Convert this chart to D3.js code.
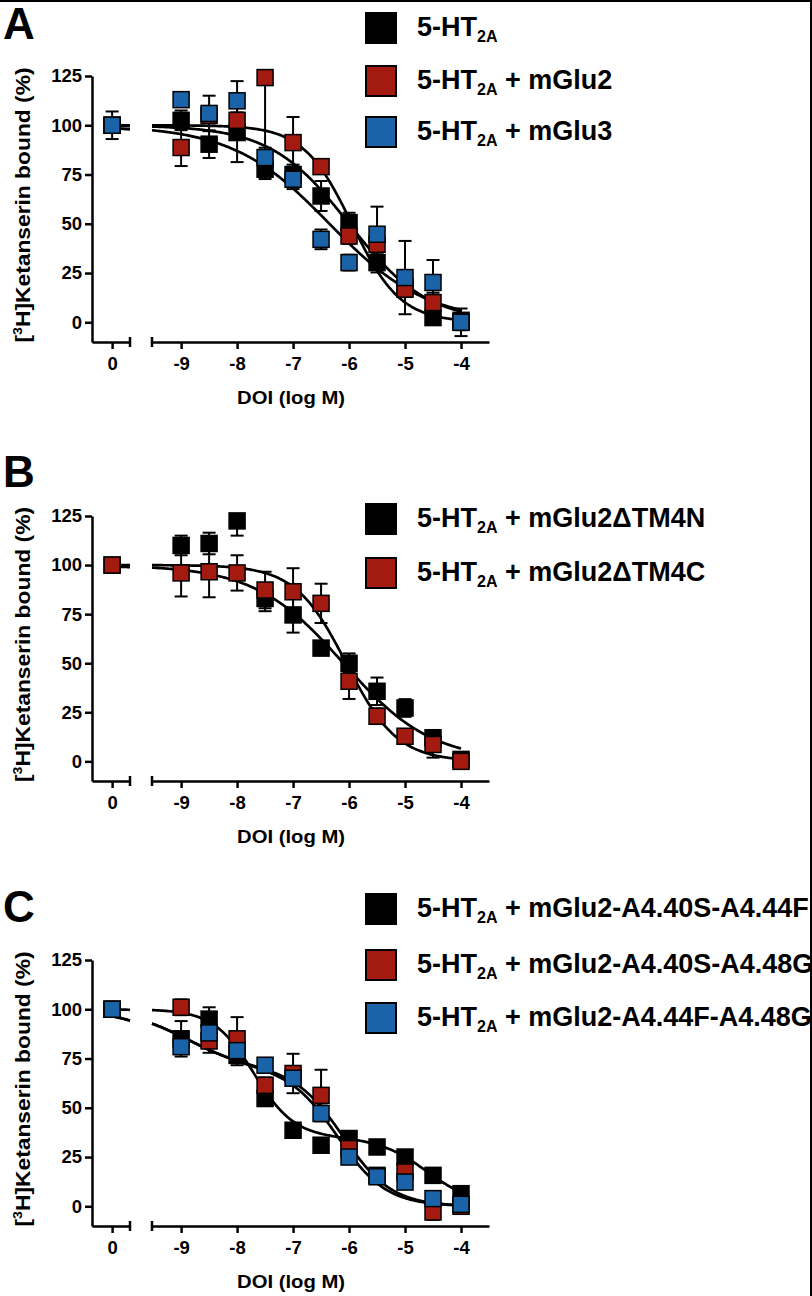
<!DOCTYPE html>
<html>
<head>
<meta charset="utf-8">
<script src="https://cdn.jsdelivr.net/npm/d3@7"></script>
<style>
  body { margin: 0; background: #fff; }
  svg text { font-family: "Liberation Sans", Arial, sans-serif; font-weight: bold; fill: #000; }
</style>
</head>
<body>
<svg id="chart" width="812" height="1296"></svg>
<script>
// doses: the first one is the vehicle (drawn at "0"), the rest are log M
var doses = [-10, -9, -8.5, -8, -7.5, -7, -6.5, -6, -5.5, -5, -4.5, -4];
var xTicks = [-9, -8, -7, -6, -5, -4];
var yTicks = [0, 25, 50, 75, 100, 125];

// panel A
var aLabels = ["", " + mGlu2", " + mGlu3"];
var aBlack    = [100, 102.5, 90.4, 96.3, 77.7, 75, 64.1, 50.6, 30.3, 18, 2.4, 1];
var aBlackErr = [3, 5, 7, 15, 5, 5, 7.6, 5, 5, 4, 3, 3];
var aRed      = [100, 88.7, 105, 102.5, 124.2, 91.2, 79, 43.8, 39.6, 16.8, 10, 0];
var aRedErr   = [3, 9.4, 4, 4, 39, 13, 3, 4, 4, 4, 5, 4];
var aBlue     = [100, 113, 106, 112.4, 83.6, 72.6, 42.1, 30.3, 44.7, 22.7, 20.2, 0];
var aBlueErr  = [7, 3, 9, 10, 5, 5, 5, 4, 14, 18.6, 11.4, 7];

// panel B
var bLabels = [" + mGlu2\u0394TM4N", " + mGlu2\u0394TM4C"];
var bBlack    = [100, 110, 111, 122.5, 83, 74.6, 57.7, 50, 35.7, 27.2, 12, 1];
var bBlackErr = [2, 5, 5.5, 7.5, 6.5, 9, 3, 5, 7, 4.5, 4, 2];
var bRed      = [100, 96, 96.6, 96, 87.3, 86.4, 80.5, 40.8, 23, 12.8, 8.6, 0];
var bRedErr   = [3, 12, 13, 9, 9.3, 12, 10, 9, 4, 3, 6.7, 2];

// panel C
var cLabels = [" + mGlu2-A4.40S-A4.44F", " + mGlu2-A4.40S-A4.48G", " + mGlu2-A4.44F-A4.48G"];
var cBlack    = [100, 85, 95, 76.6, 54.7, 38.6, 31, 34.4, 30.1, 25, 15.7, 6.4];
var cBlackErr = [3, 9, 6, 5, 3, 3, 2, 3, 2, 3, 2, 3];
var cRed      = [100, 101, 83.9, 85, 61.4, 67.4, 56.3, 29.3, 15.7, 17.4, -2.9, 0];
var cRedErr   = [3, 4, 6, 11, 4, 10, 13, 4, 3, 5, 4, 3];
var cBlue     = [100, 81, 88, 79, 71.6, 65, 47.1, 25, 15, 12.3, 3.9, 1];
var cBlueErr  = [3, 3, 3, 3, 3, 3, 4, 3, 3, 3, 3, 2];

// fitted curves: [top, bottom, fraction site 1, logEC50 1, hill 1, logEC50 2, hill 2]
var fitA = [[100, 0, 1, -6.0, 0.62, -6, 1], [100, 0, 1, -5.95, 1.0, -6, 1], [100, 0, 1, -6.35, 0.5, -6, 1]];
var fitB = [[100, 0, 1, -6.1, 0.55, -6, 1], [100, 0, 1, -6.05, 0.95, -6, 1]];
var fitC = [[100, 0, 0.65, -7.7, 1.2, -4.6, 1.0], [100, 0, 0.3, -8.9, 0.8, -6.1, 1.0], [100, 0, 0.3, -8.9, 0.8, -6.2, 1.0]];

var colors = ["#000000", "#a31b10", "#1a63a8"];

var svg = d3.select("#chart");

// frame lines at top and right
svg.append("line").attr("x1", 0).attr("x2", 812).attr("y1", 1).attr("y2", 1)
  .attr("stroke", "#000").attr("stroke-width", 2);
svg.append("line").attr("x1", 811).attr("x2", 811).attr("y1", 0).attr("y2", 1296)
  .attr("stroke", "#000").attr("stroke-width", 2);

function curveValue(p, x) {
  var a = p[2] / (1 + Math.pow(10, (x - p[3]) * p[4]));
  var b = (1 - p[2]) / (1 + Math.pow(10, (x - p[5]) * p[6]));
  return p[1] + (p[0] - p[1]) * (a + b);
}

var panels = [
  {letter: "A", letterY: 39, yTop: 76, yBot: 342, legendY: [28, 81, 132], labels: aLabels,
   series: [[aBlack, aBlackErr], [aRed, aRedErr], [aBlue, aBlueErr]], fits: fitA},
  {letter: "B", letterY: 487, yTop: 516, yBot: 781, legendY: [519, 573], labels: bLabels,
   series: [[bBlack, bBlackErr], [bRed, bRedErr]], fits: fitB},
  {letter: "C", letterY: 922, yTop: 960, yBot: 1226, legendY: [909, 965, 1018], labels: cLabels,
   series: [[cBlack, cBlackErr], [cRed, cRedErr], [cBlue, cBlueErr]], fits: fitC}
];

var xLeft = d3.scaleLinear().domain([-10.36, -9.68]).range([92, 130]);
var xRight = d3.scaleLinear().domain([-9.52, -3.5]).range([152, 489]);
function xPos(d) { return d < -9.6 ? xLeft(d) : xRight(d); }

panels.forEach(function(p) {
  var g = svg.append("g");
  var y = d3.scaleLinear().domain([-10, 125]).range([p.yBot, p.yTop]);

  g.append("text").attr("x", 3).attr("y", p.letterY)
    .style("font-size", "44px").text(p.letter);

  // y axis
  var yAxis = g.append("g").attr("transform", "translate(92,0)")
    .call(d3.axisLeft(y).tickValues(yTicks).tickSize(7).tickSizeOuter(0).tickPadding(3));
  yAxis.selectAll("path, line").attr("stroke", "#000").attr("stroke-width", 2.5);
  yAxis.selectAll("text").style("font-size", "18.5px").attr("font-family", null);

  // x axis, left part (vehicle) and right part (doses)
  var xl = g.append("g").attr("transform", "translate(0," + p.yBot + ")")
    .call(d3.axisBottom(xLeft).tickValues([-10]).tickFormat(function() { return "0"; })
      .tickSize(7).tickSizeOuter(0).tickPadding(8));
  var xr = g.append("g").attr("transform", "translate(0," + p.yBot + ")")
    .call(d3.axisBottom(xRight).tickValues(xTicks).tickSize(7).tickSizeOuter(0).tickPadding(8)
      .tickFormat(function(d) { return "-" + Math.abs(d); }));
  [xl, xr].forEach(function(ax) {
    ax.selectAll("path, line").attr("stroke", "#000").attr("stroke-width", 2.5);
    ax.selectAll("text").style("font-size", "18.5px").attr("font-family", null);
  });
  // break caps
  [xLeft.range()[1], xRight.range()[0]].forEach(function(cx) {
    g.append("line").attr("x1", cx).attr("x2", cx)
      .attr("y1", p.yBot - 5).attr("y2", p.yBot + 5)
      .attr("stroke", "#000").attr("stroke-width", 2.5);
  });

  g.append("text").attr("x", 291).attr("y", p.yBot + 62).attr("text-anchor", "middle")
    .attr("textLength", 108).attr("lengthAdjust", "spacingAndGlyphs")
    .style("font-size", "19px").text("DOI (log M)");

  var yl = g.append("text")
    .attr("transform", "translate(30," + ((p.yTop + p.yBot) / 2 - 4) + ") rotate(-90)")
    .attr("text-anchor", "middle").attr("textLength", 275).attr("lengthAdjust", "spacingAndGlyphs")
    .style("font-size", "21px");
  yl.append("tspan").text("[");
  yl.append("tspan").attr("dy", -8).style("font-size", "13px").text("3");
  yl.append("tspan").attr("dy", 8).text("H]Ketanserin bound (%)");

  // fitted curves
  p.fits.forEach(function(f) {
    var right = d3.range(-9.52, -3.99, 0.02);
    var left = d3.range(-10, -9.68, 0.02).concat([-9.68]);
    [left, right].forEach(function(seg) {
      g.append("path")
        .attr("d", d3.line().x(function(d) { return xPos(d); })
          .y(function(d) { return y(curveValue(f, d)); })(seg))
        .attr("fill", "none").attr("stroke", "#000").attr("stroke-width", 2.7);
    });
  });

  // error bars under every square
  p.series.forEach(function(s) {
    var vals = s[0], errs = s[1];
    doses.forEach(function(d, i) {
      var hi = Math.min(125, vals[i] + errs[i]);
      var lo = Math.max(-10, vals[i] - errs[i]);
      var cx = xPos(d);
      g.append("line").attr("x1", cx).attr("x2", cx).attr("y1", y(hi)).attr("y2", y(lo))
        .attr("stroke", "#000").attr("stroke-width", 2);
      [hi, lo].forEach(function(v) {
        if (v > -10 && v < 125) {
          g.append("line").attr("x1", cx - 6.5).attr("x2", cx + 6.5)
            .attr("y1", y(v)).attr("y2", y(v)).attr("stroke", "#000").attr("stroke-width", 2);
        }
      });
    });
  });

  // squares
  p.series.forEach(function(s, k) {
    g.append("g").selectAll("rect").data(doses).enter().append("rect")
      .attr("x", function(d) { return xPos(d) - 8; })
      .attr("y", function(d, i) { return y(s[0][i]) - 8; })
      .attr("width", 16).attr("height", 16)
      .attr("fill", colors[k]).attr("stroke", "#000").attr("stroke-width", 1.5);
  });

  // legend
  p.labels.forEach(function(lab, k) {
    var cy = p.legendY[k];
    g.append("rect").attr("x", 366).attr("y", cy - 15).attr("width", 30).attr("height", 30)
      .attr("fill", colors[k]).attr("stroke", "#000").attr("stroke-width", 2);
    var t = g.append("text").attr("x", 417).attr("y", cy + 8).style("font-size", "27px");
    t.append("tspan").text("5-HT");
    t.append("tspan").attr("dy", 6).style("font-size", "16px").text("2A");
    t.append("tspan").attr("dy", -6).text(lab);
  });
});
</script>
</body>
</html>
